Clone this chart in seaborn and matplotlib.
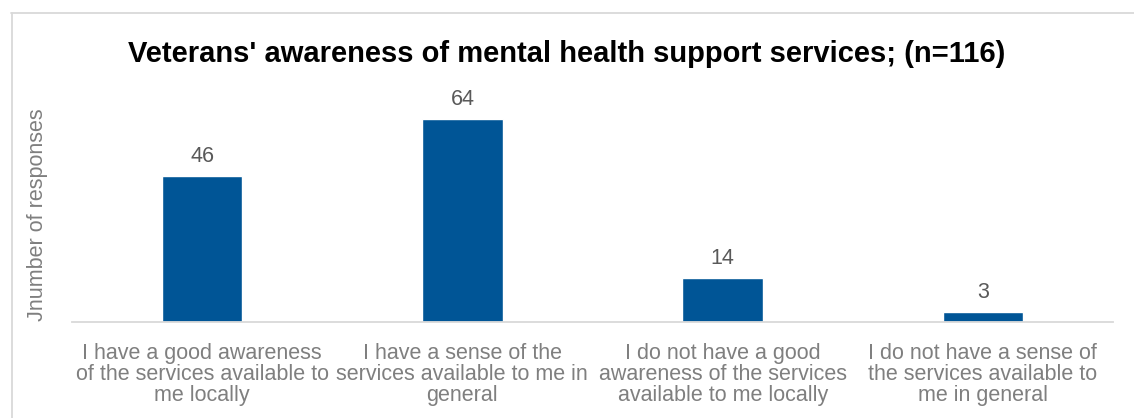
import matplotlib
matplotlib.use("Agg")
import matplotlib.pyplot as plt
from matplotlib.lines import Line2D
import seaborn as sns
import pandas as pd

categories = [
    "I have a good awareness\nof the services available to\nme locally",
    "I have a sense of the\nservices available to me in\ngeneral",
    "I do not have a good\nawareness of the services\navailable to me locally",
    "I do not have a sense of\nthe services available to\nme in general",
]
responses = [46, 64, 14, 3]

title = "Veterans' awareness of mental health support services; (n=116)"
ylabel = "Jnumber of responses"

sns.set_theme(style="white")
plt.rcParams["font.family"] = ["Liberation Sans", "DejaVu Sans"]

W, H = 1134, 418
fig = plt.figure(figsize=(W / 100, H / 100), dpi=100)
ax = fig.add_axes([72 / W, (H - 322) / H, (1113 - 72) / W, (322 - 100) / H])

df = pd.DataFrame({"category": categories, "responses": responses})
sns.barplot(data=df, x="category", y="responses", color="#005596",
            saturation=1, width=0.31, ax=ax)

ax.set_ylim(0, 70)
ax.set_xlim(-0.5, len(categories) - 0.5)
ax.set_yticks([])
ax.set_xlabel("")
ax.set_ylabel(ylabel, fontsize=15.5, color="#7f7f7f")
ax.yaxis.set_label_coords(-0.0235, 0.482)

for spine in ["top", "right", "left"]:
    ax.spines[spine].set_visible(False)
ax.spines["bottom"].set_color("#d9d9d9")
ax.spines["bottom"].set_linewidth(1.3)

ax.tick_params(axis="x", length=0, pad=15, labelsize=15.5, labelcolor="#7f7f7f")
for lbl in ax.get_xticklabels():
    lbl.set_linespacing(1.02)

for container in ax.containers:
    ax.bar_label(container, labels=[str(v) for v in responses],
                 padding=6.5, fontsize=15.5, color="#595959")

fig.text(0.5, (H - 54) / H, title, ha="center", va="center",
         fontsize=21, fontweight="bold", color="black")

# light frame around the chart area (top and left edges)
fig.add_artist(Line2D([11 / W, 1], [1 - 12.5 / H, 1 - 12.5 / H],
                      transform=fig.transFigure, color="#d9d9d9", lw=1.3))
fig.add_artist(Line2D([11.5 / W, 11.5 / W], [0, 1 - 12.5 / H],
                      transform=fig.transFigure, color="#d9d9d9", lw=1.3))

fig.savefig("out.png", dpi=100)
